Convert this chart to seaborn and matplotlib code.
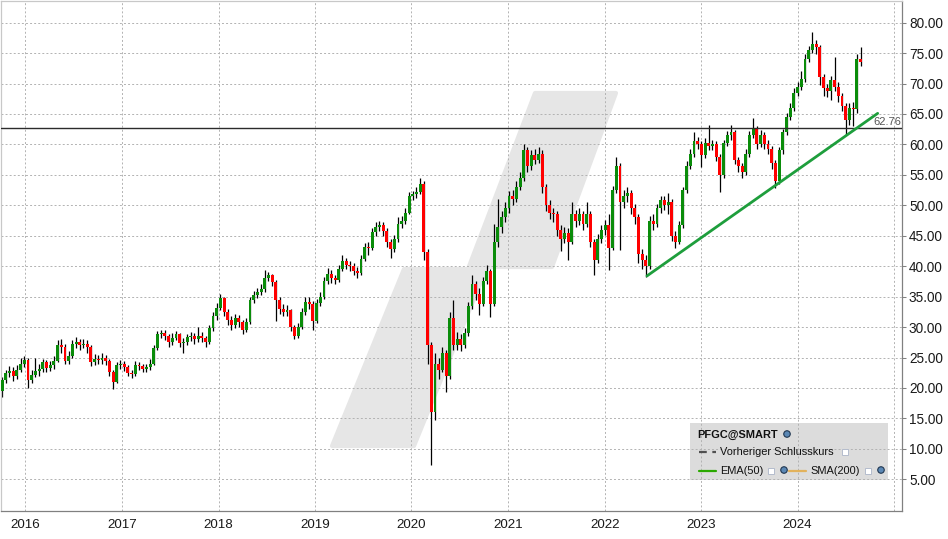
import numpy as np
import pandas as pd
import matplotlib
matplotlib.use("Agg")
import matplotlib.pyplot as plt
import matplotlib.dates as mdates
from matplotlib.patches import Polygon, Rectangle, Ellipse
from matplotlib.lines import Line2D
import seaborn as sns

# ---------------- data (bi-weekly candles) ----------------
start_date = "2015-10-05"
first_open = 19.5

close = [
    21.3, 22.4, 22.8, 22.0, 23.0, 24.0, 24.6, 21.3, 22.2, 22.8, 23.2, 24.2, 23.3,
    23.8, 24.5, 27.0, 26.8, 24.5, 25.2, 27.2, 27.6, 27.0, 27.3, 26.8, 24.3, 24.8,
    24.6, 25.0, 24.5, 22.6, 21.0, 23.8, 24.0, 23.5, 22.5, 22.3, 23.8, 23.6, 23.2,
    23.4, 24.0, 26.5, 28.8, 29.0, 28.6, 27.5, 28.2, 28.8, 27.4, 27.5, 28.3, 28.5,
    28.0, 28.6, 28.2, 27.6, 29.8, 31.8, 33.2, 34.8, 32.5, 31.2, 30.3, 31.5, 30.8,
    29.6, 30.8, 34.4, 35.3, 35.8, 36.2, 38.0, 38.5, 37.4, 34.5, 33.0, 32.5, 32.8,
    30.0, 28.6, 30.0, 32.5, 34.2, 33.8, 31.0, 34.0, 35.0, 37.5, 38.8, 38.0, 37.8,
    39.6, 40.8, 40.2, 40.0, 39.2, 38.9, 41.2, 43.2, 43.0, 45.6, 46.5, 46.8, 45.8,
    44.0, 42.8, 44.5, 47.0, 47.5, 48.8, 51.5, 51.8, 52.2, 53.5, 42.3, 27.0, 16.0,
    24.0, 23.0, 25.8, 22.0, 31.5, 27.0, 28.0, 27.0, 29.0, 33.5, 37.0, 35.5, 33.8,
    37.5, 39.2, 33.8, 44.0, 46.5, 48.0, 49.5, 51.5, 51.0, 53.0, 54.5, 59.0, 56.5,
    58.2, 57.5, 58.5, 53.0, 50.0, 48.8, 48.5, 46.0, 44.5, 45.5, 44.0, 48.5, 47.5,
    48.5, 47.0, 48.5, 44.0, 41.0, 44.5, 46.0, 46.8, 43.0, 52.5, 56.5, 50.5, 51.5,
    52.0, 49.5, 48.0, 42.0, 41.0, 40.0, 47.5, 47.0, 49.5, 50.8, 50.0, 50.5, 45.0,
    44.0, 46.8, 52.5, 56.5, 58.5, 60.5, 60.0, 58.3, 60.2, 59.8, 60.0, 58.0, 55.0,
    60.2, 61.5, 62.0, 57.5, 56.5, 55.5, 58.5, 61.5, 62.5, 60.0, 61.5, 60.0, 59.3,
    57.0, 54.0, 59.0, 62.0, 64.5, 66.0, 68.5, 69.5, 70.8, 74.0, 75.5, 76.5, 76.0,
    71.0, 69.3, 68.8, 70.5, 69.5, 68.0, 66.3, 64.0, 66.0, 65.8, 74.0, 73.5,
]

high = [
    21.8, 23.0, 23.6, 23.4, 23.8, 25.0, 25.2, 24.9, 23.0, 25.0, 24.0, 24.8, 24.6,
    24.5, 25.3, 27.8, 28.0, 27.2, 26.0, 27.8, 28.3, 28.0, 28.0, 27.8, 27.0, 25.6,
    25.4, 25.7, 25.4, 24.8, 23.0, 24.3, 24.6, 24.4, 23.8, 23.0, 24.4, 24.3, 24.0,
    24.0, 24.8, 27.0, 29.3, 29.6, 29.5, 28.9, 29.0, 29.4, 29.0, 28.2, 28.9, 29.2,
    29.0, 30.0, 29.2, 28.6, 30.3, 32.4, 34.0, 35.5, 35.0, 32.9, 31.8, 32.2, 32.0,
    31.2, 31.5, 35.0, 36.0, 36.5, 37.0, 39.3, 39.0, 38.8, 37.8, 35.0, 33.8, 33.6,
    33.0, 30.4, 30.6, 33.2, 35.0, 35.0, 34.3, 34.6, 35.7, 38.2, 39.7, 39.3, 38.6,
    40.2, 41.8, 41.4, 40.9, 40.5, 39.8, 41.8, 43.8, 43.9, 46.2, 47.3, 47.5, 47.3,
    46.2, 44.5, 45.2, 48.0, 48.3, 49.5, 52.2, 52.4, 53.0, 54.5, 54.0, 42.8, 27.5,
    25.7, 25.0, 26.8, 26.2, 32.5, 34.5, 29.2, 28.8, 29.8, 34.2, 38.5, 37.6, 36.4,
    38.2, 40.2, 39.6, 47.0, 51.0, 49.0, 50.5, 52.3, 52.5, 54.0, 55.5, 60.0, 59.5,
    59.0, 59.2, 59.5, 59.0, 53.5, 50.8, 49.6, 49.0, 46.8, 46.5, 46.3, 50.5, 49.2,
    49.6, 49.0, 50.5, 49.0, 44.5, 45.3, 46.8, 47.6, 48.5, 53.2, 58.0, 57.0, 52.5,
    53.0, 52.5, 50.2, 48.6, 42.8, 41.8, 48.2, 48.5, 50.2, 51.6, 51.5, 52.0, 51.0,
    45.8, 47.5, 53.0, 57.2, 59.2, 62.0, 61.2, 60.5, 61.0, 63.2, 60.8, 60.5, 58.5,
    60.8, 62.2, 63.2, 62.3, 58.0, 57.0, 59.2, 62.2, 64.3, 63.0, 62.3, 62.0, 60.8,
    59.8, 57.5, 59.6, 62.6, 65.2, 66.8, 69.3, 70.3, 72.0, 74.8, 76.2, 78.5, 77.2,
    76.4, 71.5, 70.0, 71.2, 74.3, 70.2, 68.5, 66.8, 66.8, 67.0, 74.8, 76.0,
]

low = [
    18.6, 20.8, 21.8, 21.2, 21.5, 22.6, 23.5, 20.0, 20.8, 21.8, 22.0, 22.6, 22.6,
    22.8, 23.2, 24.2, 25.8, 23.9, 24.0, 24.9, 26.6, 26.3, 26.5, 25.8, 23.6, 23.8,
    23.9, 24.0, 23.8, 22.0, 19.8, 20.8, 23.2, 22.8, 21.9, 21.6, 22.0, 22.9, 22.6,
    22.7, 23.0, 23.8, 26.2, 28.2, 27.9, 26.8, 27.0, 27.8, 26.8, 25.8, 27.0, 27.7,
    27.3, 27.6, 27.5, 26.8, 27.2, 29.4, 31.2, 32.8, 31.8, 30.3, 29.6, 29.9, 30.0,
    28.8, 29.2, 30.5, 33.9, 34.8, 35.2, 35.8, 37.5, 36.8, 31.0, 32.2, 31.8, 31.9,
    29.4, 28.0, 28.2, 29.7, 32.0, 33.0, 29.6, 30.6, 33.4, 34.6, 37.0, 37.3, 37.0,
    37.4, 39.2, 39.5, 39.2, 38.5, 38.0, 38.6, 40.8, 41.9, 42.6, 45.0, 45.8, 45.0,
    43.2, 41.4, 42.3, 44.0, 46.3, 47.0, 48.5, 50.8, 51.2, 51.8, 41.0, 24.0, 7.3,
    14.8, 21.4, 22.6, 19.3, 21.5, 26.2, 26.3, 26.0, 26.5, 28.6, 33.0, 34.5, 32.0,
    33.4, 37.0, 31.7, 33.5, 43.2, 45.5, 47.3, 48.8, 50.0, 50.5, 52.5, 54.0, 55.5,
    55.8, 56.8, 57.0, 52.0, 49.0, 47.8, 47.3, 45.0, 42.5, 43.8, 41.0, 43.6, 46.5,
    46.8, 46.0, 46.5, 43.2, 38.5, 40.5, 43.8, 45.2, 39.4, 42.6, 52.0, 42.6, 49.5,
    50.5, 48.6, 47.0, 40.5, 39.5, 38.2, 39.6, 46.0, 46.5, 48.8, 49.2, 48.5, 44.2,
    43.0, 43.6, 46.3, 52.0, 56.0, 58.0, 59.2, 56.3, 57.8, 59.0, 59.0, 57.2, 52.2,
    54.5, 59.8, 60.8, 56.8, 55.5, 54.5, 55.0, 58.0, 61.0, 59.3, 59.5, 59.2, 58.5,
    56.0, 52.8, 53.5, 58.5, 61.5, 64.0, 65.5, 68.0, 69.0, 70.3, 73.5, 75.0, 74.8,
    69.8, 68.0, 67.8, 67.3, 68.8, 67.0, 65.5, 61.6, 63.2, 63.0, 65.2, 72.9,
]

ref_price = 62.76
trend_dates = ["2022-06-10", "2024-10-30"]
trend_values = [38.4, 65.1]
y_ticks = [5, 10, 15, 20, 25, 30, 35, 40, 45, 50, 55, 60, 65, 70, 75, 80]
x_years = [2016, 2017, 2018, 2019, 2020, 2021, 2022, 2023, 2024, 2025]
x_labels = ["2016", "2017", "2018", "2019", "2020", "2021", "2022", "2023", "2024", ""]
legend_title = "PFGC@SMART"
legend_items = ["Vorheriger Schlusskurs", "EMA(50)", "SMA(200)"]

# ---------------- style ----------------
sns.set_style("white")
plt.rcParams["font.family"] = ["Liberation Sans", "DejaVu Sans"]

GREEN = "#0a8c0a"
RED = "#ff0000"
GRID = "#b2b2b2"

W, H = 948, 539
dates = pd.date_range(start_date, periods=len(close), freq="14D")
xs = mdates.date2num(dates.to_pydatetime())
opens = [first_open] + close[:-1]
df = pd.DataFrame({"x": xs, "open": opens, "high": high, "low": low, "close": close})
df["up"] = df["close"] >= df["open"]
df["bottom"] = df[["open", "close"]].min(axis=1)
df["height"] = (df["close"] - df["open"]).abs().clip(lower=0.2)

fig = plt.figure(figsize=(W / 100, H / 100), dpi=100)
fig.patch.set_facecolor("white")
ax = fig.add_axes([1 / W, 28 / H, 901 / W, 510 / H])
ax.set_facecolor("white")

x0 = mdates.date2num(pd.Timestamp("2015-10-01").to_pydatetime())
x1 = mdates.date2num(pd.Timestamp("2025-01-30").to_pydatetime())
ax.set_xlim(x0, x1)
ax.set_ylim(-0.2, 83.55)

# watermark (figure-pixel geometry)
def fp(x, y):
    return (x / W, 1 - y / H)

wm = [(535, 93), (616, 93), (552, 267), (487, 267), (414, 446), (332, 446), (404, 269), (468, 269)]
ax.add_patch(Polygon([fp(*p) for p in wm], closed=True, transform=fig.transFigure,
                     facecolor="#e6e6e6", edgecolor="#e6e6e6", lw=3, joinstyle="round", zorder=0.2))

# legend box (behind grid)
ax.add_patch(Rectangle(fp(690, 480), 198 / W, 57 / H, transform=fig.transFigure,
                       facecolor="#dcdcdc", edgecolor="none", zorder=0.3))

# grid
ax.set_axisbelow(True)
ax.grid(True, color=GRID, linestyle=(0, (2, 2.2)), linewidth=0.7)

# candles
ax.vlines(df["x"], df["low"], df["high"], color="black", linewidth=0.9, zorder=2)
ax.bar(df["x"], df["height"], bottom=df["bottom"], width=11,
       color=np.where(df["up"], GREEN, RED), linewidth=0, zorder=3)

# reference line & label
ax.axhline(ref_price, color="#2b2b2b", linewidth=1.0, zorder=4)
ax.annotate(f"{ref_price:.2f}", xy=(1.0, ref_price), xycoords=("axes fraction", "data"),
            xytext=(-1, 1), textcoords="offset pixels", ha="right", va="bottom",
            fontsize=8, color="#555555", zorder=5)

# trend line
trend = pd.DataFrame({"x": mdates.date2num(pd.to_datetime(trend_dates).to_pydatetime()),
                      "y": trend_values})
sns.lineplot(data=trend, x="x", y="y", ax=ax, color="#1e9e3c", linewidth=2.0, zorder=4)
ax.set_xlabel("")
ax.set_ylabel("")

# axes formatting
ax.yaxis.tick_right()
ax.set_yticks(y_ticks)
ax.set_yticklabels([f"{v:.2f}" for v in y_ticks])
ax.set_xticks(mdates.date2num([pd.Timestamp(f"{y}-01-01").to_pydatetime() for y in x_years]))
ax.set_xticklabels(x_labels)
ax.tick_params(axis="y", which="both", right=True, left=False, length=3, width=0.75,
               color="#808080", pad=2, labelsize=9.8, labelcolor="#1a1a1a")
ax.tick_params(axis="x", length=0, pad=6, labelsize=9.6, labelcolor="#1a1a1a")
for side, col in [("left", "#c8c8c8"), ("top", "#c8c8c8"), ("right", "#808080"), ("bottom", "#808080")]:
    ax.spines[side].set_visible(True)
    ax.spines[side].set_color(col)
    ax.spines[side].set_linewidth(0.9)

# legend contents
def ftext(x, y, s, **kw):
    fig.text(x / W, 1 - y / H, s, va="center", ha="left", **kw)

def fline(xa, xb, y, **kw):
    fig.add_artist(Line2D([xa / W, xb / W], [1 - y / H, 1 - y / H], transform=fig.transFigure, **kw))

def fbox(x, y):
    fig.add_artist(Rectangle(fp(x, y + 6), 6 / W, 6 / H, transform=fig.transFigure,
                             facecolor="white", edgecolor="#b4bccc", lw=0.7))

def ficon(x, y):
    fig.add_artist(Ellipse(fp(x, y), 6.5 / W, 6.5 / H, transform=fig.transFigure,
                           facecolor="#5b88b5", edgecolor="#1f3550", lw=0.8))

ftext(697, 435, legend_title, fontsize=7.9, fontweight="bold", color="#111111")
ficon(787, 434)
fline(699, 716, 452, color="#505050", lw=1.6, linestyle=(0, (3.5, 2.5)))
ftext(720, 452, legend_items[0], fontsize=7.95, color="#111111")
fbox(842, 449)
fline(699, 716, 471, color="#2aa800", lw=1.6)
ftext(720, 471, legend_items[1], fontsize=7.95, color="#111111")
fbox(768, 468)
ficon(784, 470)
fline(789, 806, 471, color="#e2b25c", lw=1.6)
ftext(810, 471, legend_items[2], fontsize=7.95, color="#111111")
fbox(865, 468)
ficon(881, 470)

fig.savefig("out.png", dpi=100, facecolor="white")
